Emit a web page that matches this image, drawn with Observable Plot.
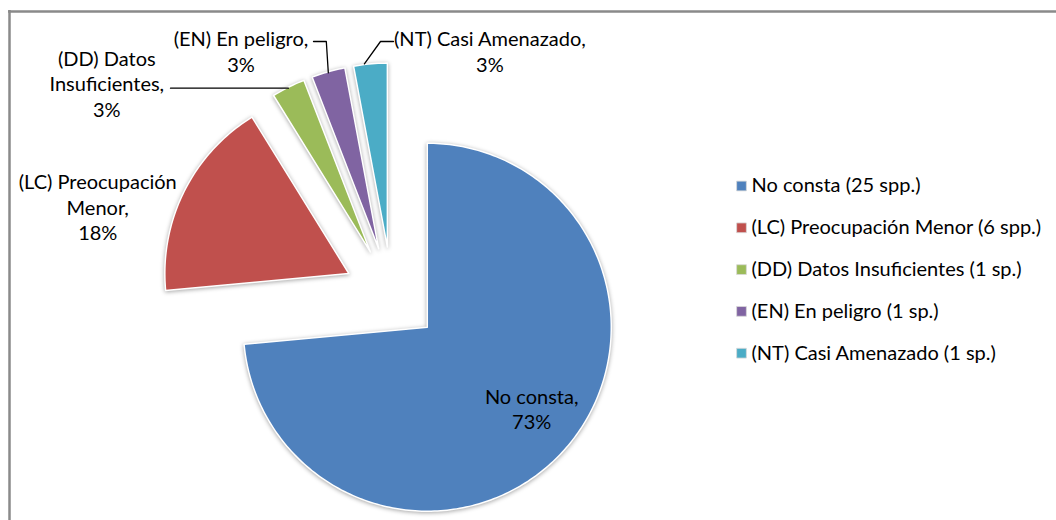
<!DOCTYPE html>
<html>
<head>
<meta charset="utf-8">
<script src="https://cdn.jsdelivr.net/npm/d3@7"></script>
<script src="https://cdn.jsdelivr.net/npm/@observablehq/plot@0.6"></script>
<style>
  html, body { margin: 0; padding: 0; background: #fff; overflow: hidden; }
  #chart { width: 1056px; height: 520px; }
</style>
</head>
<body>
<div id="chart"></div>
<script>
// ---- data ----
const categories = ["No consta", "(LC) Preocupación Menor", "(DD) Datos Insuficientes", "(EN) En peligro", "(NT) Casi Amenazado"];
const counts = [25, 6, 1, 1, 1];
const units = ["spp.", "spp.", "sp.", "sp.", "sp."];
const sliceNames = ["No consta,", "(LC) Preocupación\nMenor,", "(DD) Datos\nInsuficientes,", "(EN) En peligro,", "(NT) Casi Amenazado,"];
const percentLabels = ["73%", "18%", "3%", "3%", "3%"];
const colors = ["#4F81BD", "#C0504D", "#9BBB59", "#8064A2", "#4BACC6"];

// ---- layout ----
const W = 1056, H = 520;
const cx = 391.3, cy = 294.4, R = 184, explode = 48;
// label placement: polar (degrees clockwise from north, distance from pie centre)
const labelPolar = [[129, 180], [286.7, 307], [306.6, 355], [328.3, 287], [21.9, 263]];
const font = "Lato, 'Open Sans', sans-serif";

const total = d3.sum(counts);
let acc = 0;
const slices = counts.map((v, i) => {
  const a0 = acc / total * 2 * Math.PI;
  acc += v;
  const a1 = acc / total * 2 * Math.PI;
  const mid = (a0 + a1) / 2;
  const ox = cx + explode * Math.sin(mid), oy = cy - explode * Math.cos(mid);
  return {i, a0, a1, mid, ox, oy};
});

const polyPts = [];
for (const s of slices) {
  polyPts.push({k: s.i, x: s.ox, y: s.oy});
  const n = Math.max(4, Math.ceil((s.a1 - s.a0) / (Math.PI / 180)));
  for (let j = 0; j <= n; j++) {
    const a = s.a0 + (s.a1 - s.a0) * j / n;
    polyPts.push({k: s.i, x: s.ox + R * Math.sin(a), y: s.oy - R * Math.cos(a)});
  }
}

const labels = slices.map(s => {
  const [deg, dist] = labelPolar[s.i];
  const a = deg * Math.PI / 180;
  return {x: cx + dist * Math.sin(a), y: cy - dist * Math.cos(a), text: sliceNames[s.i] + "\n" + percentLabels[s.i]};
});

// leader lines (from label side to slice edge)
const outer = (s, a) => ({x: s.ox + R * Math.sin(a), y: s.oy - R * Math.cos(a)});
const leaderPts = [];
{
  const g = slices[2], p = slices[3], t = slices[4];
  const gTop = outer(g, g.mid);
  leaderPts.push({k: 2, x: 170, y: gTop.y + 1}, {k: 2, x: gTop.x, y: gTop.y + 1});
  const pTop = outer(p, p.mid);
  leaderPts.push({k: 3, x: 313, y: 41}, {k: 3, x: pTop.x - 2, y: 41}, {k: 3, x: pTop.x, y: pTop.y + 1});
  const tTop = outer(t, t.mid);
  leaderPts.push({k: 4, x: 393, y: 41}, {k: 4, x: 380, y: 41}, {k: 4, x: tTop.x - 6, y: tTop.y});
}

const legend = categories.map((c, i) => ({i, text: `${c} (${counts[i]} ${units[i]})`}));
const legX = 741, legY0 = 185.5, legDy = 41.8;

const chart = Plot.plot({
  width: W, height: H,
  margin: 0,
  x: {type: "identity", axis: null},
  y: {type: "identity", axis: null},
  style: {fontFamily: font, background: "#fff"},
  marks: [
    Plot.ruleX([9], {y1: 10, y2: H, stroke: "#8a8a8a", strokeWidth: 2.5}),
    Plot.ruleY([11], {x1: 8, x2: W, stroke: "#8a8a8a", strokeWidth: 2.5}),
    Plot.line(polyPts, {x: "x", y: "y", z: "k", curve: "linear-closed",
      fill: d => colors[d.k], stroke: "#ffffff", strokeWidth: 1.5, strokeLinejoin: "round"}),
    Plot.line(leaderPts, {x: "x", y: "y", z: "k", stroke: "#000", strokeWidth: 1.3}),
    Plot.text(labels, {x: "x", y: "y", text: "text", fontSize: 20, lineHeight: 1.28, fill: "#000", textAnchor: "middle"}),
    Plot.dot(legend, {x: legX, y: d => legY0 + d.i * legDy, symbol: "square", r: 5.5,
      fill: d => colors[d.i], stroke: "#d8d8d8", strokeWidth: 0.8}),
    Plot.text(legend, {x: legX + 10, y: d => legY0 + d.i * legDy, text: "text", textAnchor: "start",
      fontSize: 20, fill: "#000"})
  ]
});
d3.select(chart).selectAll('g[aria-label="line"]').filter((d, i) => i === 0)
  .style("filter", "drop-shadow(0px 1px 2px rgba(0,0,0,0.35))");
document.getElementById("chart").appendChild(chart);
</script>
</body>
</html>
